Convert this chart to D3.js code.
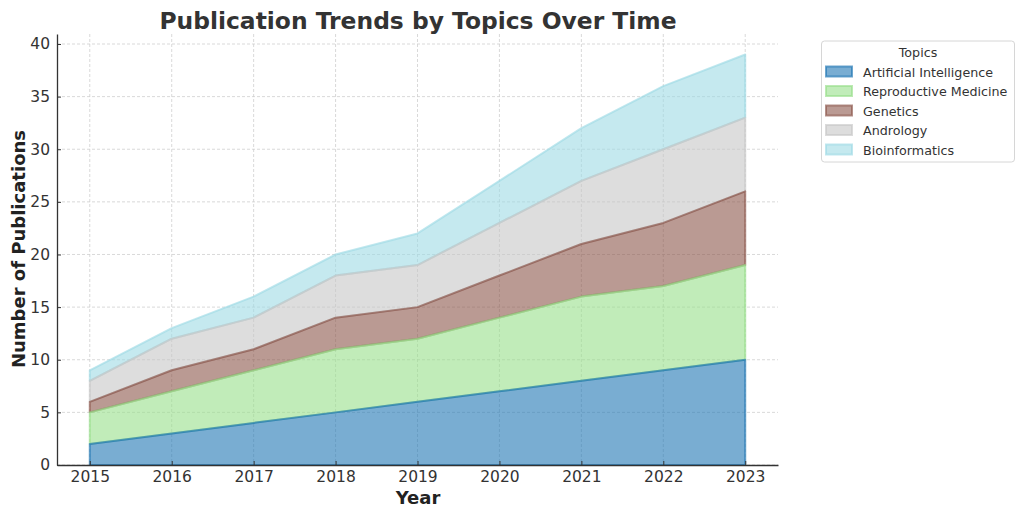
<!DOCTYPE html>
<html>
<head>
<meta charset="utf-8">
<script src="https://cdn.jsdelivr.net/npm/d3@7/dist/d3.min.js"></script>
<style>
  html, body { margin: 0; padding: 0; background: #fff; }
  svg { display: block; font-family: "DejaVu Sans", sans-serif; }
</style>
</head>
<body>
<svg id="chart" width="1024" height="517"></svg>
<script>
const years = [2015, 2016, 2017, 2018, 2019, 2020, 2021, 2022, 2023];
const topics = ["Artificial Intelligence", "Reproductive Medicine", "Genetics", "Andrology", "Bioinformatics"];
const artificialIntelligence = [2, 3, 4, 5, 6, 7, 8, 9, 10];
const reproductiveMedicine = [3, 4, 5, 6, 6, 7, 8, 8, 9];
const genetics = [1, 2, 2, 3, 3, 4, 5, 6, 7];
const andrology = [2, 3, 3, 4, 4, 5, 6, 7, 7];
const bioinformatics = [1, 1, 2, 2, 3, 4, 5, 6, 6];
const yTicks = [0, 5, 10, 15, 20, 25, 30, 35, 40];
const colors = ["#1f77b4", "#98df8a", "#8c564b", "#c7c7c7", "#9edae5"];

const seriesValues = [artificialIntelligence, reproductiveMedicine, genetics, andrology, bioinformatics];
const table = years.map((yr, i) => {
  const row = { year: yr };
  topics.forEach((t, k) => row[t] = seriesValues[k][i]);
  return row;
});
const stacked = d3.stack().keys(topics)(table);

const svg = d3.select("#chart");
const pLeft = 57, pRight = 778, pTop = 34, pBottom = 465;
const x = d3.scaleLinear().domain([2015 - 0.4, 2023 + 0.4]).range([pLeft, pRight]);
const yMax = d3.max(stacked[stacked.length - 1], d => d[1]) * 1.05;
const y = d3.scaleLinear().domain([0, yMax]).range([pBottom, pTop]);

// grid
const grid = svg.append("g");
grid.selectAll("line.v").data(years).join("line").attr("class", "v")
  .attr("x1", d => x(d)).attr("x2", d => x(d)).attr("y1", pTop).attr("y2", pBottom)
  .attr("stroke", "#cfcfcf").attr("stroke-width", 0.8).attr("stroke-dasharray", "3,2");
grid.selectAll("line.h").data(yTicks).join("line").attr("class", "h")
  .attr("y1", d => y(d)).attr("y2", d => y(d)).attr("x1", pLeft).attr("x2", pRight)
  .attr("stroke", "#cfcfcf").attr("stroke-width", 0.8).attr("stroke-dasharray", "3,2");

// areas (drawn top series first so each lower series' top edge stays visible)
const area = d3.area().x(d => x(d.data.year)).y0(d => y(d[0])).y1(d => y(d[1]));
const order = stacked.map((s, i) => ({ s, i })).reverse();
svg.append("g").selectAll("path").data(order).join("path")
  .attr("d", d => area(d.s))
  .attr("fill", d => colors[d.i]).attr("fill-opacity", 0.6)
  .attr("stroke", d => colors[d.i]).attr("stroke-opacity", 0.65)
  .attr("stroke-width", 2).attr("stroke-linejoin", "round");

// axes
const axisColor = "#333333";
const xAxis = d3.axisBottom(x).tickValues(years).tickFormat(d3.format("d")).tickSizeInner(-4).tickSizeOuter(0).tickPadding(6);
const gx = svg.append("g").attr("transform", `translate(0,${pBottom})`).call(xAxis);
const yAxis = d3.axisLeft(y).tickValues(yTicks).tickSizeInner(-4).tickSizeOuter(0).tickPadding(7);
const gy = svg.append("g").attr("transform", `translate(${pLeft},0)`).call(yAxis);
[gx, gy].forEach(g => {
  g.select(".domain").attr("stroke", axisColor).attr("stroke-width", 1.3);
  g.selectAll(".tick line").attr("stroke", axisColor).attr("stroke-width", 1);
  g.selectAll(".tick text").attr("fill", "#333").style("font-size", "15.5px").style("font-family", "DejaVu Sans");
});

// title and labels
svg.append("text").attr("x", 418).attr("y", 28.5).attr("text-anchor", "middle")
  .style("font-size", "23.4px").style("font-weight", "bold").attr("fill", "#333")
  .text("Publication Trends by Topics Over Time");
svg.append("text").attr("x", 418).attr("y", 504).attr("text-anchor", "middle")
  .style("font-size", "18px").style("font-weight", "bold").attr("fill", "#222")
  .text("Year");
svg.append("text").attr("transform", "translate(24.5,249) rotate(-90)").attr("text-anchor", "middle")
  .style("font-size", "18px").style("font-weight", "bold").attr("fill", "#222")
  .text("Number of Publications");

// legend
const lg = svg.append("g");
lg.append("rect").attr("x", 821.5).attr("y", 41).attr("width", 193).attr("height", 121)
  .attr("rx", 3).attr("fill", "#fff").attr("stroke", "#d6d6d6").attr("stroke-width", 1);
lg.append("text").attr("x", 918).attr("y", 57).attr("text-anchor", "middle")
  .style("font-size", "12.7px").attr("fill", "#333").text("Topics");
const items = lg.selectAll("g.item").data(topics).join("g").attr("class", "item")
  .attr("transform", (d, i) => `translate(0,${66.5 + i * 19.5})`);
items.append("rect").attr("x", 826).attr("y", 0).attr("width", 26).attr("height", 10)
  .attr("fill", (d, i) => colors[i]).attr("fill-opacity", 0.6)
  .attr("stroke", (d, i) => colors[i]).attr("stroke-opacity", 0.65).attr("stroke-width", 2);
items.append("text").attr("x", 863).attr("y", 10)
  .style("font-size", "12.7px").attr("fill", "#333").text(d => d);
</script>
</body>
</html>
